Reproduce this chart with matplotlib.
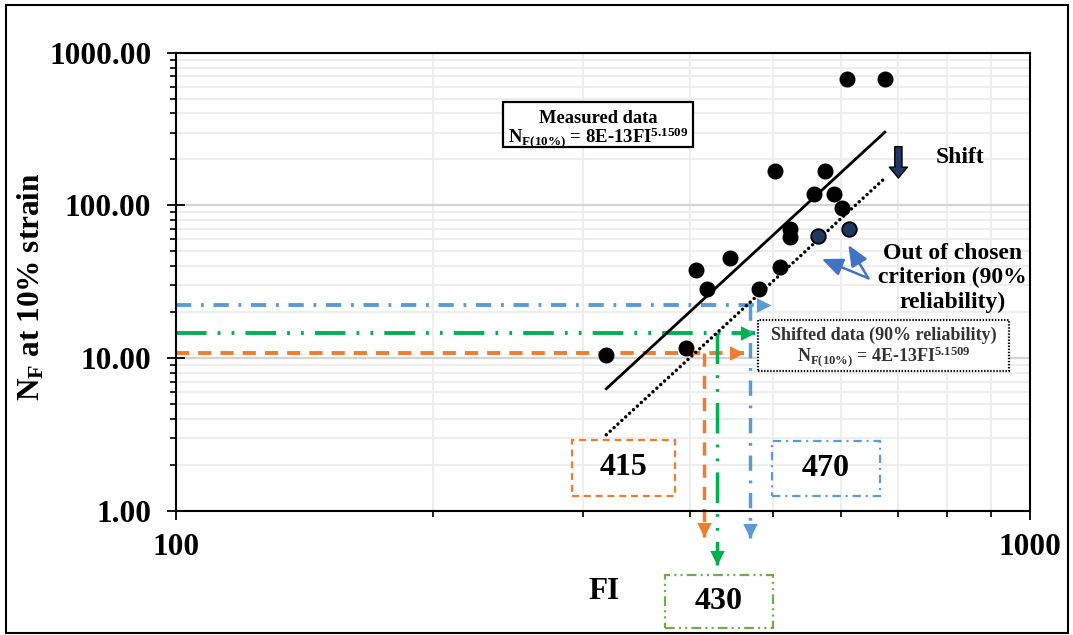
import numpy as np
import matplotlib
matplotlib.use('Agg')
import matplotlib.pyplot as plt
from matplotlib.patches import Rectangle, FancyArrowPatch
from matplotlib.ticker import LogLocator, FuncFormatter, NullFormatter

# measured fatigue results (FI vs cycles to 10% strain)
fi_measured = [319, 396, 406, 419, 445, 482, 503, 509, 524, 524, 558, 575, 589, 602, 610, 676]
nf_measured = [10.5, 11.6, 38, 28.4, 45.5, 28.4, 169, 39.5, 70.4, 62, 119, 169, 119, 96, 673, 673]
# points falling outside the 90% reliability criterion
fi_outside = [564, 614]
nf_outside = [63, 70.4]

# power-law fits  N = a * FI^b
coef_measured = 8e-13
coef_shifted = 4e-13
exponent = 5.1509

# design read-offs (FI value, N level)
fi_design = [415, 430, 470]
nf_design = [10.8, 14.6, 22.4]
design_labels = ['415', '430', '470']
design_colors = ['#ED7D31', '#00B050', '#5B9BD5']

plt.rcParams['font.family'] = ['Liberation Serif', 'DejaVu Serif']
plt.rcParams['font.weight'] = 'bold'
plt.rcParams['mathtext.fontset'] = 'custom'
plt.rcParams['mathtext.rm'] = 'Liberation Serif:bold'
plt.rcParams['mathtext.bf'] = 'Liberation Serif:bold'
plt.rcParams['mathtext.it'] = 'Liberation Serif:bold:italic'
plt.rcParams['lines.scale_dashes'] = False

fig = plt.figure(figsize=(10.73, 6.35), dpi=100)
ax = fig.add_axes([0.164, 0.1953, 0.796, 0.7217])
ax.set_xscale('log')
ax.set_yscale('log')
ax.set_xlim(100, 1000)
ax.set_ylim(1, 1000)

# grid
ax.yaxis.set_minor_locator(LogLocator(base=10, subs=np.arange(2, 10)))
ax.xaxis.set_minor_locator(LogLocator(base=10, subs=np.arange(2, 10)))
ax.grid(which='major', axis='y', color='#D4D4D4', lw=1.6)
ax.grid(which='minor', axis='both', color='#EEEEEE', lw=1.5)
ax.set_axisbelow(True)

ax.yaxis.set_major_formatter(FuncFormatter(lambda v, p: f'{v:.2f}'))
ax.xaxis.set_major_formatter(FuncFormatter(lambda v, p: f'{v:.0f}'))
ax.yaxis.set_minor_formatter(NullFormatter())
ax.xaxis.set_minor_formatter(NullFormatter())
ax.tick_params(which='major', direction='inout', length=13.5, width=1.3,
               labelsize=22.5, colors='black')
ax.tick_params(which='minor', direction='out', length=4.5, width=1.2)
ax.tick_params(axis='y', which='major', pad=11)
ax.tick_params(axis='x', which='major', pad=9)
for lab in ax.get_xticklabels() + ax.get_yticklabels():
    lab.set_fontweight('bold')
for s in ax.spines.values():
    s.set_linewidth(1.5)
    s.set_color('black')

# trend lines over the data range
fi_all = fi_measured + fi_outside
fi_fit = np.geomspace(min(fi_all), max(fi_all), 50)
ax.plot(fi_fit, coef_measured * fi_fit ** exponent, color='black', lw=2.0, zorder=3)
ax.plot(fi_fit, coef_shifted * fi_fit ** exponent, color='black', lw=2.5,
        dashes=(0.01, 3.8), dash_capstyle='round', zorder=3)

ax.plot(fi_measured, nf_measured, 'o', color='black', ms=10.5, zorder=4)
ax.plot(fi_outside, nf_outside, 'o', mfc='#1F3864', mec='black', mew=1.3, ms=10.5, zorder=4)

# read-off arrows: y axis -> across, then down to the FI axis
h_tip = [462, 477, 497]
v_tip = [0.679, 0.444, 0.663]
styles = [(9.5, 6.5), (22, 8, 2, 8, 2, 8), (11, 7, 2, 7)]
down = [(0, 0), (-0.5, 1), (0.5, 1)]
right = [(0, 0), (-1, 0.5), (-1, -0.5)]
for fi, nf, ht, vt, c, d in zip(fi_design, nf_design, h_tip, v_tip, design_colors, styles):
    ax.plot([100, ht], [nf, nf], color=c, lw=2.8, dashes=d, zorder=2)
    ax.plot([fi, fi], [nf, vt], color=c, lw=2.5, dashes=d, zorder=2, clip_on=False)
    ax.plot(ht, nf, marker=right, color=c, ms=21, mew=0, zorder=2)
    ax.plot(fi, vt, marker=down, color=c, ms=21, mew=0, zorder=2, clip_on=False)

# value boxes
box_pos = [(0.464, 0.0327, 0.1203, 0.1222), (0.5726, -0.2546, 0.1262, 0.115),
           (0.6979, 0.0327, 0.1265, 0.12)]
box_style = [(0, (5, 3.5)), (0, (7, 3, 1.5, 3, 1.5, 3)), (0, (6, 3.5, 1.5, 3.5))]
box_color = ['#ED7D31', '#70AD47', '#5B9BD5']
for (x0, y0, w, h), lab, ls, c in zip(box_pos, design_labels, box_style, box_color):
    ax.add_patch(Rectangle((x0, y0), w, h, transform=ax.transAxes, fill=False,
                           ec=c, lw=1.6, ls=ls, clip_on=False, zorder=5))
    ax.text(x0 + w / 2, y0 + h / 2, lab, transform=ax.transAxes, ha='center',
            va='center', fontsize=23, fontweight='bold', zorder=6)

# equation boxes
ax.add_patch(Rectangle((0.3833, 0.7949), 0.2224, 0.0982, transform=ax.transAxes,
                       fc='white', ec='black', lw=1.6, zorder=5))
ax.text(0.4941, 0.8575, 'Measured data', transform=ax.transAxes, ha='center',
        va='center', fontsize=13.3, zorder=6)
ax.text(0.4941, 0.8139, r'N$_{\mathrm{F(10\%)}}$ = 8E-13FI$^{\mathrm{5.1509}}$',
        transform=ax.transAxes, ha='center', va='center', fontsize=13.5, zorder=6)

ax.add_patch(Rectangle((0.6819, 0.3061), 0.2939, 0.1107, transform=ax.transAxes,
                       fc='white', ec='black', lw=1.6, ls=(0, (1, 1.2)), zorder=5))
ax.text(0.8288, 0.3840, 'Shifted data (90% reliability)', transform=ax.transAxes,
        ha='center', va='center', fontsize=13, color='#333333', zorder=6)
ax.text(0.8288, 0.3367, r'N$_{\mathrm{F(10\%)}}$ = 4E-13FI$^{\mathrm{5.1509}}$',
        transform=ax.transAxes, ha='center', va='center', fontsize=13,
        color='#333333', zorder=6)

# shift arrow and notes
ax.add_patch(FancyArrowPatch((0.8458, 0.795), (0.8458, 0.7266), transform=ax.transAxes,
                             arrowstyle='simple,head_width=1.0,head_length=0.6,tail_width=0.4',
                             fc='#1F3864', ec='black', lw=1, mutation_scale=13,
                             shrinkA=0, shrinkB=0, zorder=6))
ax.text(0.918, 0.7724, 'Shift', transform=ax.transAxes, ha='center', va='center',
        fontsize=17)
ax.text(0.9087, 0.509, 'Out of chosen\ncriterion (90%\nreliability)',
        transform=ax.transAxes, ha='center', va='center', fontsize=17,
        multialignment='center', zorder=6)
for hx, hy in [(0.7561, 0.5499), (0.7872, 0.5804)]:
    ax.add_patch(FancyArrowPatch((0.8107, 0.5077), (hx, hy), transform=ax.transAxes,
                                 arrowstyle='-|>,head_width=0.3,head_length=0.7',
                                 color='#4472C4', lw=1.8, mutation_scale=18,
                                 shrinkA=0, shrinkB=0, zorder=7))

ax.set_xlabel('FI', fontsize=22.5, fontweight='bold', va='center')
ax.xaxis.set_label_coords(0.501, -0.1767)
ax.set_ylabel(r'N$_{\mathrm{F}}$ at 10% strain', fontsize=22.5, fontweight='bold',
              va='center')
ax.yaxis.set_label_coords(-0.170, 0.489)

# outer frame
fig.patches.append(Rectangle((6 / 1073, 2 / 635), 1062 / 1073, 628 / 635,
                             transform=fig.transFigure, fill=False, ec='black', lw=1.5))

fig.savefig('out.png', dpi=100)
